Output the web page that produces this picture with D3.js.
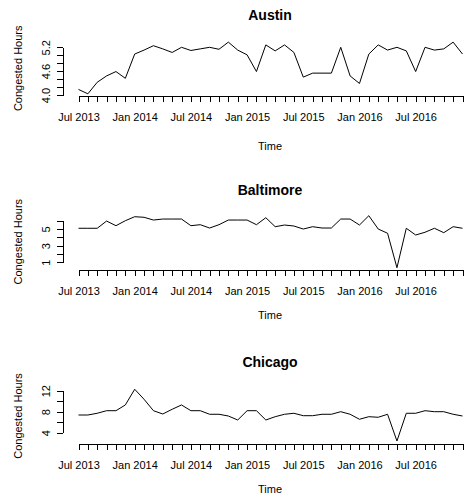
<!DOCTYPE html>
<html><head><meta charset="utf-8">
<script src="https://cdn.jsdelivr.net/npm/d3@7"></script>
<style>
body{margin:0;background:#fff}
svg{display:block}
text{font-family:"Liberation Sans",Arial,sans-serif;fill:#000}
</style>
</head><body>
<svg id="chart" width="466" height="497"></svg>
<script>
// ---- data (monthly, Jul 2013 .. Dec 2016) ----
const cities = ["Austin", "Baltimore", "Chicago"];
const startYear = 2013;
const startMonth = 7;
const austin = [4.14, 4.03, 4.32, 4.48, 4.59, 4.42, 5.03, 5.13, 5.24, 5.16, 5.07, 5.20, 5.12, 5.16, 5.20, 5.15, 5.33, 5.13, 5.01, 4.59, 5.26, 5.11, 5.26, 5.07, 4.45, 4.55, 4.55, 4.55, 5.20, 4.48, 4.29, 5.03, 5.26, 5.13, 5.20, 5.11, 4.59, 5.20, 5.13, 5.16, 5.33, 5.03];
const baltimore = [5.09, 5.09, 5.09, 5.96, 5.40, 6.00, 6.48, 6.41, 6.08, 6.20, 6.20, 6.20, 5.40, 5.52, 5.12, 5.52, 6.08, 6.08, 6.08, 5.52, 6.36, 5.28, 5.48, 5.36, 5.00, 5.28, 5.12, 5.12, 6.20, 6.20, 5.48, 6.60, 5.00, 4.49, 0.35, 5.09, 4.28, 4.61, 5.09, 4.56, 5.28, 5.09];
const chicago = [7.38, 7.38, 7.71, 8.20, 8.20, 9.29, 12.27, 10.37, 8.20, 7.57, 8.47, 9.29, 8.20, 8.20, 7.52, 7.52, 7.19, 6.43, 8.20, 8.20, 6.43, 7.06, 7.52, 7.71, 7.25, 7.25, 7.52, 7.52, 8.01, 7.52, 6.57, 7.06, 6.95, 7.52, 2.44, 7.71, 7.71, 8.20, 8.01, 8.01, 7.52, 7.19];
const xTickLabels = ["Jul 2013", "Jan 2014", "Jul 2014", "Jan 2015", "Jul 2015", "Jan 2016", "Jul 2016"];
const austinYTicks = [4.0, 4.2, 4.4, 4.6, 4.8, 5.0, 5.2];
const austinYLabels = ["4.0", "4.6", "5.2"];
const baltimoreYTicks = [1, 2, 3, 4, 5, 6];
const baltimoreYLabels = ["1", "3", "5"];
const chicagoYTicks = [4, 6, 8, 10, 12];
const chicagoYLabels = ["4", "8", "12"];
const xLabel = "Time";
const yLabel = "Congested Hours";

// ---- layout ----
const series = [austin, baltimore, chicago];
const yTicks = [austinYTicks, baltimoreYTicks, chicagoYTicks];
const yLabs = [austinYLabels, baltimoreYLabels, chicagoYLabels];
const layout = [
  {title: 20, axis: 95.5, y0: 95, y1: 47.3, time: 150, ylab: 68.3},
  {title: 194.5, axis: 269.5, y0: 262.3, y1: 220.7, time: 319.3, ylab: 241.7},
  {title: 367.3, axis: 443.5, y0: 432.8, y1: 390.7, time: 493, ylab: 416}
];

const svg = d3.select("#chart");
const nMonths = austin.length;
const timeOf = i => startYear + (startMonth - 1) / 12 + i / 12;
const x = d3.scaleLinear().domain([timeOf(0), timeOf(nMonths - 1)]).range([78.5, 462.5]);
const xTicks = d3.range(nMonths).map(timeOf);
const monthNames = ["Jan","Feb","Mar","Apr","May","Jun","Jul","Aug","Sep","Oct","Nov","Dec"];
const fmtTime = t => {
  const m = Math.round((t - Math.floor(t + 1e-6)) * 12);
  const s = monthNames[m] + " " + Math.floor(t + 1e-6);
  return xTickLabels.includes(s) ? s : "";
};

cities.forEach((name, k) => {
  const L = layout[k];
  const ticks = yTicks[k];
  const y = d3.scaleLinear().domain([ticks[0], ticks[ticks.length - 1]]).range([L.y0, L.y1]);
  const g = svg.append("g");

  // x axis
  const xa = g.append("g").attr("transform", `translate(0,${L.axis})`)
    .call(d3.axisBottom(x).tickValues(xTicks).tickSize(6).tickSizeOuter(0).tickFormat(fmtTime));
  xa.selectAll("path,line").attr("stroke", "#000").attr("shape-rendering", "crispEdges");
  xa.selectAll("text").attr("font-size", 11).attr("dy", null).attr("y", 25)
    .attr("font-family", '"Liberation Sans",Arial,sans-serif').attr("fill", "#000");

  // y axis
  const fmtY = v => {
    const s = (name === "Austin") ? v.toFixed(1) : String(v);
    return yLabs[k].includes(s) ? s : "";
  };
  const ya = g.append("g").attr("transform", "translate(62.5,0)")
    .call(d3.axisLeft(y).tickValues(ticks).tickSize(6).tickSizeOuter(0).tickFormat(fmtY));
  ya.selectAll("path,line").attr("stroke", "#000").attr("shape-rendering", "crispEdges");
  ya.selectAll("text").attr("font-size", 11).attr("dy", null).attr("x", null)
    .attr("text-anchor", "middle")
    .attr("font-family", '"Liberation Sans",Arial,sans-serif').attr("fill", "#000")
    .attr("transform", "translate(-12.5,0) rotate(-90)");

  // line
  const line = d3.line().x((d, i) => x(timeOf(i))).y(d => y(d));
  g.append("path").datum(series[k]).attr("d", line)
    .attr("fill", "none").attr("stroke", "#000").attr("stroke-width", 1);

  // title
  g.append("text").attr("x", 270).attr("y", L.title).attr("text-anchor", "middle")
    .attr("font-size", 14).attr("font-weight", "bold").text(name);
  // x label
  g.append("text").attr("x", 270).attr("y", L.time).attr("text-anchor", "middle")
    .attr("font-size", 11).text(xLabel);
  // y label
  g.append("text").attr("transform", `translate(21.5,${L.ylab}) rotate(-90)`)
    .attr("text-anchor", "middle").attr("font-size", 11).text(yLabel);
});
</script>
</body></html>
